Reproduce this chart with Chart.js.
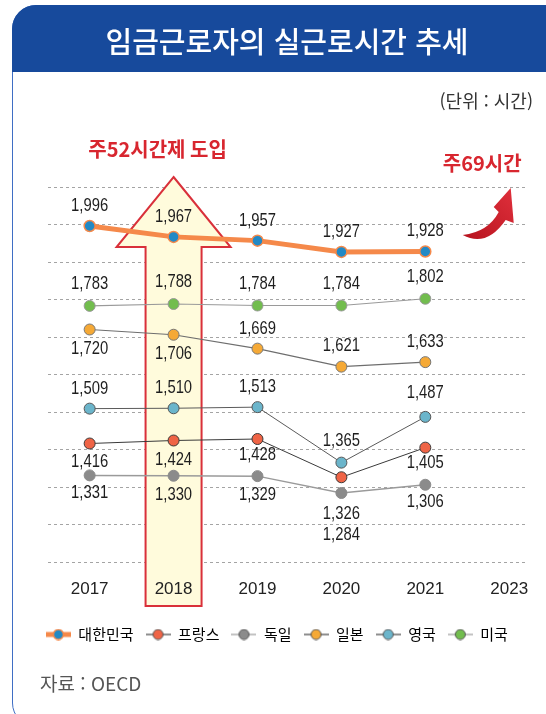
<!DOCTYPE html>
<html lang="ko">
<head>
<meta charset="utf-8">
<title>임금근로자의 실근로시간 추세</title>
<script src="https://cdn.jsdelivr.net/npm/chart.js@4.4.1/dist/chart.umd.min.js"></script>
<style>
  html, body { margin: 0; padding: 0; width: 546px; height: 714px; overflow: hidden; background: #fff;
    font-family: "Noto Sans CJK KR", "Noto Sans", sans-serif; }
  #frame { position: absolute; left: 12px; top: 5px; width: 600px; height: 722px; box-sizing: border-box;
    border: 1.5px solid #3f6ec4; border-radius: 24px 0 0 24px; }
  #titlebar { position: absolute; left: 12px; top: 5px; width: 600px; height: 67px; background: #174a9c;
    border-radius: 24px 0 0 0; }
  #title { position: absolute; left: 0; top: 7px; width: 574px; height: 67px; line-height: 67px; text-align: center;
    color: #fff; font-size: 29px; font-weight: 500; }
  #unit { position: absolute; right: 13px; top: 87px; font-size: 18px; color: #333; }
  #source { position: absolute; left: 40px; top: 669px; font-size: 19px; color: #555; }
  #chart { position: absolute; left: 0; top: 0; }
</style>
</head>
<body>
<div id="frame"></div>
<div id="titlebar"></div>
<canvas id="chart" width="546" height="714"></canvas>
<div id="title">임금근로자의 실근로시간 추세</div>
<div id="unit">(단위 : 시간)</div>
<div id="source">자료 : OECD</div>

<script>
// values (hours per year)
const years = ['2017', '2018', '2019', '2020', '2021', '2023'];
const countries = ['대한민국', '프랑스', '독일', '일본', '영국', '미국'];
const korea = [1996, 1967, 1957, 1927, 1928];
const france = [1416, 1424, 1428, 1326, 1405];
const germany = [1331, 1330, 1329, 1284, 1306];
const japan = [1720, 1706, 1669, 1621, 1633];
const uk = [1509, 1510, 1513, 1365, 1487];
const usa = [1783, 1788, 1784, 1784, 1802];
const yMin = 1100, yMax = 2100, yStep = 100;

// where each value label sits relative to its point (px, + is below)
const labelShift = [
    [-20, -20, -20, -20, -21],
    [18, 19, 16, 37, 15],
    [17, 19, 19, 42, 17],
    [19, 19, -20, -21, -20],
    [-20, -20, -20, -22, -24],
    [-22, -22, -22, -22, -22]
];

const styles = [
    { line: '#f5894a', width: 5, fill: '#2289c5', edge: '#f5894a', edgeWidth: 1.5 },
    { line: '#3a3a3a', width: 1, fill: '#ef6446', edge: '#3a3a3a', edgeWidth: 1 },
    { line: '#9a9a9a', width: 1.5, fill: '#8b8b8b', edge: '#8b8b8b', edgeWidth: 1 },
    { line: '#6e6e6e', width: 1.2, fill: '#f5a936', edge: '#777', edgeWidth: 1 },
    { line: '#5a5a5a', width: 1, fill: '#6bb5cb', edge: '#555', edgeWidth: 1 },
    { line: '#9a9a9a', width: 1.2, fill: '#72bd4e', edge: '#999', edgeWidth: 1 }
];

const series = [korea, france, germany, japan, uk, usa];
const numFont = '"Liberation Sans", Arimo, sans-serif';
const krFont = '"Noto Sans CJK KR", "Noto Sans", sans-serif';

function legendMarker(st, thick) {
    const c = document.createElement('canvas');
    c.width = 25; c.height = 12;
    const g = c.getContext('2d');
    g.strokeStyle = thick ? st.line : (st.line === '#9a9a9a' ? '#9a9a9a' : '#444');
    g.lineWidth = thick ? 5 : 1.2;
    g.beginPath(); g.moveTo(0, 6); g.lineTo(25, 6); g.stroke();
    g.beginPath(); g.arc(12.5, 6, 5, 0, Math.PI * 2);
    g.fillStyle = st.fill; g.fill();
    g.lineWidth = thick ? 1.5 : 1;
    g.strokeStyle = thick ? st.line : '#555';
    g.stroke();
    return c;
}

const markers = styles.map((st, i) => legendMarker(st, i === 0));

const datasets = series.map((vals, i) => ({
    label: countries[i],
    data: vals.map((v, j) => ({ x: j, y: v })),
    borderColor: styles[i].line,
    borderWidth: styles[i].width,
    pointRadius: 5.5,
    pointBackgroundColor: styles[i].fill,
    pointBorderColor: styles[i].edge,
    pointBorderWidth: styles[i].edgeWidth,
    tension: 0
}));

// value labels next to every point (squeezed a bit, the source uses a narrow face)
const valueLabels = {
    id: 'valueLabels',
    afterDatasetsDraw(chart) {
        const ctx = chart.ctx;
        chart.data.datasets.forEach((ds, di) => {
            chart.getDatasetMeta(di).data.forEach((pt, i) => {
                ctx.save();
                ctx.font = '19px ' + numFont;
                ctx.fillStyle = '#1e1e1e';
                ctx.textAlign = 'center';
                ctx.textBaseline = 'middle';
                ctx.translate(pt.x, pt.y + labelShift[di][i]);
                ctx.scale(0.78, 1);
                ctx.fillText(ds.data[i].y.toLocaleString('en-US'), 0, 0);
                ctx.restore();
            });
        });
    }
};

// the 2018 arrow, the "69 hours" arrow and their captions
const notes = {
    id: 'notes',
    beforeDatasetsDraw(chart) {
        const ctx = chart.ctx;
        const area = chart.chartArea;
        const cx = chart.scales.x.getPixelForValue(1);
        const tipY = area.top - 10, baseY = area.top + 60, endY = area.bottom + 44;
        ctx.save();
        ctx.beginPath();
        ctx.moveTo(cx, tipY);
        ctx.lineTo(cx + 57, baseY);
        ctx.lineTo(cx + 28, baseY);
        ctx.lineTo(cx + 28, endY);
        ctx.lineTo(cx - 28, endY);
        ctx.lineTo(cx - 28, baseY);
        ctx.lineTo(cx - 57, baseY);
        ctx.closePath();
        ctx.fillStyle = '#fffbdc';
        ctx.fill();
        ctx.strokeStyle = '#d9303a';
        ctx.lineWidth = 2;
        ctx.stroke();
        ctx.restore();
    },
    afterDraw(chart) {
        const ctx = chart.ctx;
        const area = chart.chartArea;
        const x1 = chart.scales.x.getPixelForValue(1);
        const ax = chart.scales.x.getPixelForValue(5), ay = area.top;
        ctx.save();
        ctx.fillStyle = '#d8262f';
        ctx.font = 'bold 20px ' + krFont;
        ctx.textAlign = 'center';
        ctx.textBaseline = 'middle';
        ctx.fillText('주52시간제 도입', x1 - 16, area.top - 38);
        ctx.fillText('주69시간', ax - 27, area.top - 24);

        const grad = ctx.createLinearGradient(ax - 46, ay + 48, ax + 4, ay);
        grad.addColorStop(0, '#b8141f');
        grad.addColorStop(1, '#e0303c');
        ctx.fillStyle = grad;
        ctx.beginPath();
        ctx.moveTo(ax - 46.5, ay + 48);
        ctx.quadraticCurveTo(ax - 23, ay + 61, ax - 3.5, ay + 33);
        ctx.lineTo(ax + 4.5, ay + 36);
        ctx.lineTo(ax + 1.5, ay + 1);
        ctx.lineTo(ax - 15.5, ay + 20);
        ctx.lineTo(ax - 10.5, ay + 25);
        ctx.quadraticCurveTo(ax - 21, ay + 45, ax - 46.5, ay + 48);
        ctx.closePath();
        ctx.fill();
        ctx.restore();
    }
};

Chart.defaults.font.family = krFont;

new Chart(document.getElementById('chart'), {
    type: 'line',
    data: { datasets },
    options: {
        responsive: false,
        animation: false,
        events: [],
        layout: { padding: { left: 27.7, right: 20, top: 187, bottom: 62 } },
        scales: {
            x: {
                type: 'linear',
                min: -0.5,
                max: 5.2,
                grid: { display: false },
                border: { display: false },
                ticks: {
                    z: 1,
                    padding: 9,
                    maxRotation: 0,
                    color: '#222',
                    font: { family: numFont, size: 17 },
                    callback: v => years[v]
                },
                afterBuildTicks: s => { s.ticks = years.map((y, i) => ({ value: i })); },
                afterFit: s => { s.height = 53; }
            },
            y: {
                min: yMin,
                max: yMax,
                ticks: { display: false, stepSize: yStep },
                grid: { color: '#a4a4a4', lineWidth: 1, drawTicks: false },
                border: { display: false, dash: [3, 3] },
                afterFit: s => { s.width = 20; }
            }
        },
        plugins: {
            tooltip: { enabled: false },
            legend: {
                position: 'bottom',
                labels: {
                    usePointStyle: true,
                    pointStyleWidth: 25,
                    padding: 12,
                    color: '#222',
                    font: { size: 15 },
                    generateLabels: chart => chart.data.datasets.map((ds, i) => ({
                        text: ds.label,
                        pointStyle: markers[i],
                        fillStyle: styles[i].fill,
                        strokeStyle: 'transparent',
                        lineWidth: 0,
                        hidden: false,
                        datasetIndex: i
                    }))
                }
            }
        }
    },
    plugins: [notes, valueLabels]
});
</script>
</body>
</html>
